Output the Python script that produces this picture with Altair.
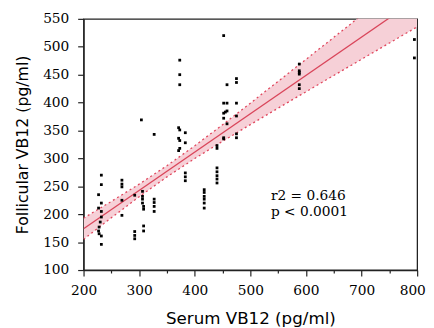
import altair as alt
import pandas as pd

# Scatter points (Serum VB12, Follicular VB12)
pts_x = [232, 232, 227, 232, 227, 232, 232, 230, 228, 227, 228, 232, 232,
         269, 269, 269, 269, 269,
         292, 292, 292, 292,
         304, 306, 306, 306, 306, 308, 308, 308, 308,
         327, 327, 327, 327, 327,
         373, 373, 373, 371, 373, 383, 371, 373, 383, 373, 371, 383, 383, 383,
         417, 417, 417, 417, 417, 417,
         440, 440, 440, 440, 440, 440, 440,
         452, 458, 452, 458, 458, 452, 455, 452, 458, 452, 452,
         475, 475, 475, 475, 475, 475,
         588, 588, 588, 588, 588, 588,
         795, 795]
pts_y = [270, 253, 235, 220, 211, 205, 195, 186, 177, 170, 165, 161, 146,
         261, 254, 249, 225, 198,
         234, 169, 162, 156,
         369, 241, 232, 227, 220, 214, 209, 179, 170,
         343, 227, 221, 214, 205,
         476, 450, 432, 355, 351, 346, 336, 332, 328, 318, 314, 274, 267, 260,
         244, 239, 232, 227, 220, 211,
         283, 276, 269, 263, 256, 323, 318,
         520, 432, 399, 399, 385, 381, 383, 372, 362, 337, 335,
         443, 436, 399, 376, 344, 337,
         469, 457, 454, 451, 432, 425,
         513, 480]

# Fitted line and its confidence band
fit_x = [200, 800]
fit_y = [174, 586]
band_x = [200, 250, 300, 350, 400, 450, 500, 550, 600, 650, 700, 750, 800]
band_lo = [155, 193.6, 231.3, 266.9, 299.8, 330.7, 360.6, 390.1, 419.4, 448.6, 477.6, 506.7, 535.7]
band_hi = [193, 223, 253.9, 286.9, 322.6, 360.3, 399.0, 438.1, 477.4, 516.8, 556.4, 595.9, 635.5]

# Annotation
note_x = [537, 537]
note_y = [226, 197]
note_text = ["r2 = 0.646", "p < 0.0001"]

x_ticks = [200, 250, 300, 350, 400, 450, 500, 550, 600, 650, 700, 750, 800]
y_ticks = [100, 150, 200, 250, 300, 350, 400, 450, 500, 550]

pts = pd.DataFrame({"x": pts_x, "y": pts_y})
fit = pd.DataFrame({"x": fit_x, "y": fit_y})
band = pd.DataFrame({"x": band_x, "lo": band_lo, "hi": band_hi})
notes = pd.DataFrame({"x": note_x, "y": note_y, "t": note_text})

xscale = alt.Scale(domain=[200, 800], nice=False, zero=False)
yscale = alt.Scale(domain=[100, 550], nice=False, zero=False)

xaxis = alt.Axis(
    title="Serum VB12 (pg/ml)",
    values=x_ticks,
    labelExpr="datum.value % 100 === 0 ? datum.label : ''",
    tickSize={"condition": {"test": "datum.value % 100 === 0", "value": 6}, "value": 3},
    labelOffset={"condition": {"test": "datum.value === 800", "value": -5}, "value": 0},
    labelFlush=False,
    labelPadding=8,
    titlePadding=13,
    titleFontSize=17,
)
yaxis = alt.Axis(
    title="Follicular VB12 (pg/ml)",
    values=y_ticks,
    tickSize=6,
    labelFlush=False,
    labelPadding=9,
    titlePadding=12,
    titleFontSize=16,
)

def X(field):
    return alt.X(field, type="quantitative", scale=xscale, axis=xaxis)

def Y(field):
    return alt.Y(field, type="quantitative", scale=yscale, axis=yaxis)

area = alt.Chart(band).mark_area(color="#f6d0d7", opacity=1, clip=True).encode(
    x=X("x"), y=Y("lo"), y2="hi"
)
lo_line = alt.Chart(band).mark_line(color="#e0455c", strokeWidth=1.3, strokeDash=[2, 3], clip=True).encode(
    x=X("x"), y=Y("lo")
)
hi_line = alt.Chart(band).mark_line(color="#e0455c", strokeWidth=1.3, strokeDash=[2, 3], clip=True).encode(
    x=X("x"), y=Y("hi")
)
fit_line = alt.Chart(fit).mark_line(color="#d9455a", strokeWidth=1.3, clip=True).encode(
    x=X("x"), y=Y("y")
)
points = alt.Chart(pts).mark_square(size=8, color="black", opacity=1).encode(
    x=X("x"), y=Y("y")
)
text = alt.Chart(notes).mark_text(
    align="left", baseline="alphabetic", font="DejaVu Serif", fontSize=14, color="black"
).encode(x=X("x"), y=Y("y"), text="t:N")

chart = alt.layer(area, lo_line, hi_line, fit_line, points, text).properties(
    width=340,
    height=256,
    autosize=alt.AutoSizeParams(type="none"),
    padding={"left": 77, "top": 8, "right": 9, "bottom": 56},
).configure_view(
    stroke="#222", strokeWidth=1.3
).configure_axis(
    domainColor="#222",
    domainWidth=1.3,
    tickColor="#222",
    tickWidth=1.2,
    grid=False,
    labelFont="DejaVu Serif",
    labelFontSize=14,
    labelColor="black",
    titleFont="DejaVu Sans",
    titleFontWeight="normal",
    titleColor="black",
)

chart.save("out.html", embed_options={"renderer": "svg", "actions": False})
